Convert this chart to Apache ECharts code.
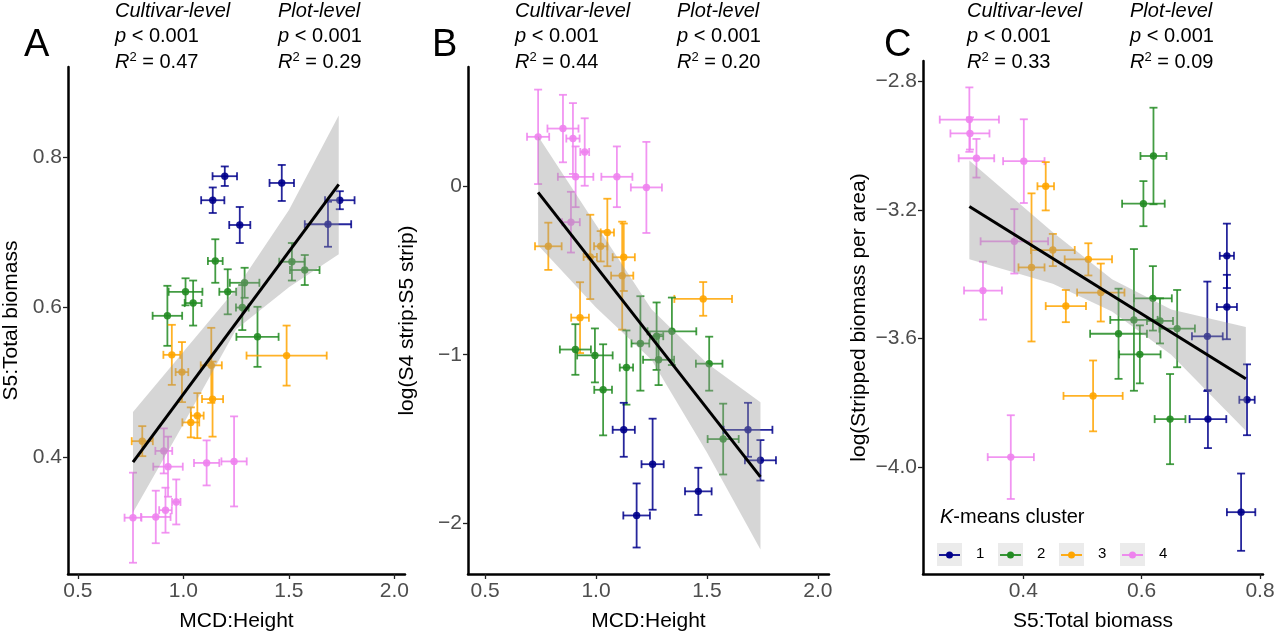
<!DOCTYPE html>
<html>
<head>
<meta charset="utf-8">
<script src="https://cdn.jsdelivr.net/npm/echarts@6/dist/echarts.min.js"></script>
<style>html,body{margin:0;padding:0;background:#fff}#chart{width:1280px;height:637px}</style>
</head>
<body>
<div id="chart"></div>
<script>
// cluster colours (1..4)
var clusterNames = ['1', '2', '3', '4'];
var clusterColors = ['#00008B', '#228B22', '#FFA500', '#EE82EE'];

// [x, y, xerr, yerr, cluster]
var ptsA = [
	[1.196,0.775,0.058,0.013,1],[1.466,0.766,0.058,0.024,1],[1.139,0.743,0.055,0.017,1],
	[1.267,0.710,0.050,0.024,1],[1.741,0.743,0.070,0.012,1],[1.685,0.711,0.110,0.030,1],
	[1.151,0.662,0.035,0.029,2],[1.010,0.621,0.080,0.018,2],[1.046,0.606,0.040,0.030,2],
	[0.924,0.589,0.070,0.040,2],[1.210,0.621,0.040,0.030,2],[1.290,0.633,0.070,0.020,2],
	[1.279,0.600,0.030,0.030,2],[1.351,0.561,0.100,0.040,2],[1.514,0.661,0.060,0.025,2],
	[1.575,0.650,0.070,0.020,2],
	[0.945,0.537,0.040,0.040,3],[0.993,0.514,0.030,0.040,3],[1.132,0.523,0.050,0.050,3],
	[1.138,0.478,0.050,0.050,3],[1.066,0.456,0.030,0.030,3],[1.035,0.447,0.040,0.020,3],
	[1.489,0.536,0.190,0.040,3],[0.805,0.422,0.050,0.020,3],
	[0.907,0.409,0.040,0.030,4],[0.927,0.388,0.070,0.040,4],[1.110,0.393,0.060,0.030,4],
	[1.240,0.395,0.060,0.060,4],[0.966,0.341,0.020,0.030,4],[0.915,0.330,0.030,0.030,4],
	[0.869,0.321,0.070,0.035,4],[0.761,0.320,0.040,0.060,4]
];
var ptsB = [
	[0.739,0.292,0.05,0.28,4],[0.851,0.341,0.07,0.20,4],[0.896,0.282,0.03,0.21,4],
	[0.949,0.202,0.02,0.20,4],[0.908,0.055,0.08,0.18,4],[1.094,0.055,0.07,0.18,4],
	[1.227,-0.008,0.07,0.27,4],[0.887,-0.214,0.04,0.18,4],
	[0.785,-0.357,0.06,0.14,3],[1.051,-0.275,0.03,0.20,3],[1.021,-0.357,0.03,0.09,3],
	[1.125,-0.422,0.05,0.20,3],[1.118,-0.531,0.05,0.32,3],[0.974,-0.420,0.03,0.25,3],
	[0.928,-0.780,0.04,0.21,3],[1.483,-0.669,0.13,0.10,3],
	[0.907,-0.969,0.07,0.15,2],[0.995,-1.004,0.08,0.16,2],[1.032,-1.208,0.04,0.27,2],
	[1.137,-1.076,0.03,0.22,2],[1.200,-0.933,0.04,0.28,2],[1.273,-0.890,0.03,0.20,2],
	[1.282,-1.030,0.07,0.15,2],[1.342,-0.861,0.11,0.20,2],[1.510,-1.053,0.06,0.16,2],
	[1.573,-1.500,0.07,0.21,2],
	[1.125,-1.445,0.05,0.16,1],[1.255,-1.649,0.05,0.27,1],[1.183,-1.953,0.06,0.19,1],
	[1.461,-1.810,0.06,0.14,1],[1.685,-1.445,0.11,0.16,1],[1.741,-1.626,0.07,0.12,1]
];
var ptsC = [
	[0.309,-2.920,0.050,0.100,4],[0.310,-2.963,0.033,0.050,4],[0.321,-3.040,0.030,0.060,4],
	[0.401,-3.049,0.035,0.130,4],[0.385,-3.298,0.057,0.100,4],[0.332,-3.451,0.032,0.090,4],
	[0.379,-3.968,0.039,0.130,4],
	[0.438,-3.127,0.014,0.075,3],[0.450,-3.325,0.037,0.050,3],[0.414,-3.379,0.022,0.230,3],
	[0.510,-3.354,0.040,0.050,3],[0.531,-3.457,0.040,0.090,3],[0.472,-3.499,0.034,0.050,3],
	[0.518,-3.778,0.050,0.110,3],
	[0.620,-3.033,0.022,0.150,2],[0.603,-3.181,0.036,0.070,2],[0.619,-3.475,0.032,0.100,2],
	[0.587,-3.542,0.040,0.220,2],[0.631,-3.545,0.022,0.070,2],[0.660,-3.569,0.030,0.120,2],
	[0.561,-3.585,0.048,0.140,2],[0.597,-3.649,0.035,0.090,2],[0.648,-3.850,0.026,0.140,2],
	[0.744,-3.343,0.012,0.100,1],[0.744,-3.502,0.017,0.100,1],[0.711,-3.593,0.026,0.170,1],
	[0.712,-3.850,0.031,0.090,1],[0.778,-3.790,0.013,0.110,1],[0.768,-4.139,0.024,0.120,1]
];

// fitted lines and confidence bands
var lineA = [[0.761,0.394],[1.736,0.764]];
var lineB = [[0.739,-0.037],[1.741,-1.724]];
var lineC = [[0.309,-3.190],[0.776,-3.725]];
var bandAx = [0.761,1.0,1.25,1.5,1.736];
var bandAlo = [0.327,0.445,0.571,0.627,0.671];
var bandAhi = [0.461,0.541,0.625,0.730,0.856];
var bandBx = [0.739,1.0,1.25,1.5,1.741];
var bandBlo = [-0.351,-0.72,-1.03,-1.58,-2.155];
var bandBhi = [0.296,-0.23,-0.73,-1.05,-1.282];
var bandCx = [0.309,0.45,0.55,0.65,0.776];
var bandClo = [-3.354,-3.43,-3.516,-3.65,-3.886];
var bandChi = [-3.047,-3.27,-3.416,-3.51,-3.564];

// tick labels
var ticksAx = [0.5,1.0,1.5,2.0], ticksAy = [0.4,0.6,0.8];
var ticksBx = [0.5,1.0,1.5,2.0], ticksBy = [-2,-1,0];
var ticksCx = [0.4,0.6,0.8], ticksCy = [-4.0,-3.6,-3.2,-2.8];

var stats = [
	{ lab: 'A', x: 39, cx: 115, px: 278, r1: '0.47', r2: '0.29' },
	{ lab: 'B', x: 447, cx: 515, px: 677, r1: '0.44', r2: '0.20' },
	{ lab: 'C', x: 899, cx: 967, px: 1130, r1: '0.33', r2: '0.09' }
];

var myChart = echarts.init(document.getElementById('chart'));
var FONT = 'Liberation Sans, Arial, sans-serif';
var FS = 20;

function minus(v, d) {
	return v.toFixed(d).replace('-', '\u2212');
}

function xAxisOf(i, min, max, ticks, d, name) {
	return {
		type: 'value', gridIndex: i, min: min, max: max,
		name: name, nameLocation: 'middle', nameGap: 37,
		nameTextStyle: { fontSize: FS + 1, color: '#000', fontFamily: FONT },
		axisLine: { onZero: false, lineStyle: { color: '#000', width: 2.5 } },
		axisTick: { customValues: ticks, length: 5, lineStyle: { color: '#222', width: 1.3 } },
		axisLabel: { customValues: ticks, fontSize: FS + 1, color: '#4d4d4d', fontFamily: FONT, margin: 7,
			formatter: function (v) { return minus(v, d); } },
		splitLine: { show: false }
	};
}
function yAxisOf(i, min, max, ticks, d, name, gap) {
	return {
		type: 'value', gridIndex: i, min: min, max: max,
		name: name, nameLocation: 'middle', nameGap: gap,
		nameTextStyle: { fontSize: FS + 1, color: '#000', fontFamily: FONT },
		axisLine: { show: true, onZero: false, lineStyle: { color: '#000', width: 2.5 } },
		axisTick: { show: true, customValues: ticks, length: 5, lineStyle: { color: '#222', width: 1.3 } },
		axisLabel: { customValues: ticks, fontSize: FS + 1, color: '#4d4d4d', fontFamily: FONT, margin: 6,
			formatter: function (v) { return minus(v, d); } },
		splitLine: { show: false }
	};
}

function errorSeries(i, pts) {
	return {
		type: 'custom', xAxisIndex: i, yAxisIndex: i, data: pts, z: 2,
		renderItem: function (params, api) {
			var x = api.value(0), y = api.value(1), ex = api.value(2), ey = api.value(3);
			var col = clusterColors[api.value(4) - 1];
			var c = api.coord([x, y]);
			var l = api.coord([x - ex, y]), r = api.coord([x + ex, y]);
			var t = api.coord([x, y + ey]), b = api.coord([x, y - ey]);
			var cap = 4;
			var st = { stroke: col, lineWidth: 1.8, opacity: 0.85 };
			var seg = function (x1, y1, x2, y2) {
				return { type: 'line', shape: { x1: x1, y1: y1, x2: x2, y2: y2 }, style: st };
			};
			return { type: 'group', children: [
				seg(l[0], c[1], r[0], c[1]),
				seg(c[0], t[1], c[0], b[1]),
				seg(l[0], c[1] - cap, l[0], c[1] + cap),
				seg(r[0], c[1] - cap, r[0], c[1] + cap),
				seg(c[0] - cap, t[1], c[0] + cap, t[1]),
				seg(c[0] - cap, b[1], c[0] + cap, b[1]),
				{ type: 'circle', shape: { cx: c[0], cy: c[1], r: 3.7 }, style: { fill: col, opacity: 0.9 } }
			] };
		}
	};
}

function bandSeries(i, bx, lo, hi) {
	return {
		type: 'custom', xAxisIndex: i, yAxisIndex: i, data: [0], z: 3, silent: true,
		renderItem: function (params, api) {
			var p = [];
			for (var k = 0; k < bx.length; k++) p.push(api.coord([bx[k], hi[k]]));
			for (var k2 = bx.length - 1; k2 >= 0; k2--) p.push(api.coord([bx[k2], lo[k2]]));
			return { type: 'polygon', shape: { points: p }, style: { fill: 'rgba(153,153,153,0.4)' } };
		}
	};
}

function lineSeries(i, d) {
	return {
		type: 'line', xAxisIndex: i, yAxisIndex: i, data: d, z: 4,
		showSymbol: false, silent: true,
		lineStyle: { color: '#000', width: 3 }
	};
}

// annotations
var graphics = [];
stats.forEach(function (s) {
	graphics.push({ type: 'text', left: s.x - 15, top: 27, style: { text: s.lab, fontSize: 38, fill: '#000', fontFamily: FONT } });
	[s.cx, s.px].forEach(function (x, j) {
		var r = j === 0 ? s.r1 : s.r2;
		graphics.push({ type: 'text', left: x, top: 1, style: {
			text: (j === 0 ? 'Cultivar-level' : 'Plot-level'), fontSize: FS, fontStyle: 'italic', fill: '#000', fontFamily: FONT } });
		graphics.push({ type: 'text', left: x, top: 26, style: {
			text: '{i|p} < 0.001', fontSize: FS, fill: '#000', fontFamily: FONT,
			rich: { i: { fontStyle: 'italic', fontSize: FS, fontFamily: FONT } } } });
		graphics.push({ type: 'text', left: x, top: 51, style: {
			text: '{i|R}{s|2} = ' + r, fontSize: FS, fill: '#000', fontFamily: FONT,
			rich: { i: { fontStyle: 'italic', fontSize: FS, fontFamily: FONT },
				s: { fontSize: 13, fontFamily: FONT, padding: [0, 0, 9, 0] } } } });
	});
});
// legend
graphics.push({ type: 'text', left: 940, top: 507, style: {
	text: '{i|K}-means cluster', fontSize: FS, fill: '#000', fontFamily: FONT,
	rich: { i: { fontStyle: 'italic', fontSize: FS, fontFamily: FONT } } } });
clusterNames.forEach(function (n, k) {
	var x0 = 937 + k * 61;
	graphics.push({ type: 'rect', shape: { x: x0, y: 543, width: 25, height: 23 }, style: { fill: '#ebebeb' } });
	graphics.push({ type: 'line', shape: { x1: x0 + 2, y1: 555, x2: x0 + 23, y2: 555 }, style: { stroke: clusterColors[k], lineWidth: 1.8 } });
	graphics.push({ type: 'circle', shape: { cx: x0 + 12.5, cy: 555, r: 3.5 }, style: { fill: clusterColors[k] } });
	graphics.push({ type: 'text', left: x0 + 39, top: 546, style: { text: n, fontSize: 15, fill: '#000', fontFamily: FONT } });
});

var option = {
	animation: false,
	backgroundColor: '#fff',
	grid: [
		{ left: 65, top: 67, width: 340, height: 511 },
		{ left: 468, top: 67, width: 361, height: 511 },
		{ left: 923, top: 61, width: 340, height: 517 }
	],
	xAxis: [
		xAxisOf(0, 0.453, 2.05, ticksAx, 1, 'MCD:Height'),
		xAxisOf(1, 0.423, 2.05, ticksBx, 1, 'MCD:Height'),
		xAxisOf(2, 0.2307, 0.805, ticksCx, 1, 'S5:Total biomass')
	],
	yAxis: [
		yAxisOf(0, 0.245, 0.9205, ticksAy, 1, 'S5:Total biomass', 46),
		yAxisOf(1, -2.3, 0.706, ticksBy, 0, 'log(S4 strip:S5 strip)', 50),
		yAxisOf(2, -4.331, -2.738, ticksCy, 1, 'log(Stripped biomass per area)', 53)
	],
	graphic: graphics,
	series: [
		errorSeries(0, ptsA), bandSeries(0, bandAx, bandAlo, bandAhi), lineSeries(0, lineA),
		errorSeries(1, ptsB), bandSeries(1, bandBx, bandBlo, bandBhi), lineSeries(1, lineB),
		errorSeries(2, ptsC), bandSeries(2, bandCx, bandClo, bandChi), lineSeries(2, lineC)
	]
};
myChart.setOption(option);
</script>
</body>
</html>
